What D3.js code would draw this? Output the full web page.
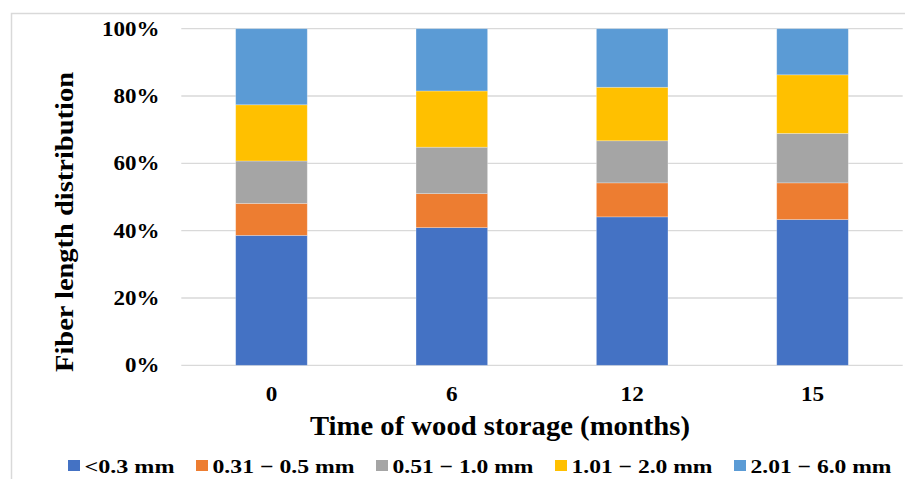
<!DOCTYPE html>
<html><head><meta charset="utf-8">
<script src="https://cdn.jsdelivr.net/npm/d3@7"></script>
<style>body{margin:0;background:#fff}svg{display:block}text{font-family:"Liberation Serif","Times New Roman",serif;font-weight:bold;fill:#000}</style>
</head><body><svg id="c" width="905" height="479"></svg>
<script>
const categories = ["0", "6", "12", "15"];
const seriesNames = ["<0.3 mm", "0.31 \u2212 0.5 mm", "0.51 \u2212 1.0 mm", "1.01 \u2212 2.0 mm", "2.01 \u2212 6.0 mm"];
const s1 = [38.6, 40.9, 44.1, 43.3];
const s2 = [9.5, 10.1, 10.1, 10.9];
const s3 = [12.6, 13.8, 12.5, 14.7];
const s4 = [16.7, 16.7, 15.9, 17.4];
const s5 = [22.6, 18.5, 17.4, 13.7];
const colors = ["#4472c4", "#ed7d31", "#a5a5a5", "#ffc000", "#5b9bd5"];
const yTicks = [0, 0.2, 0.4, 0.6, 0.8, 1.0];

const svg = d3.select("#c");
svg.append("rect").attr("x",11.5).attr("y",13.5).attr("width",900).attr("height",480)
  .attr("fill","none").attr("stroke","#d9d9d9").attr("stroke-width",1.5);

const x = d3.scaleBand().domain(categories).range([181.3, 902.7]).paddingInner(0.603).paddingOuter(0.3015);
const y = d3.scaleLinear().domain([0,1]).range([365.3, 28.7]);

const g = svg.append("g");
g.selectAll("line.grid").data(yTicks).join("line").attr("class","grid")
  .attr("x1",181.3).attr("x2",902.7).attr("y1",d=>y(d)).attr("y2",d=>y(d))
  .attr("stroke","#d9d9d9").attr("stroke-width",1.3);

const series = [s1,s2,s3,s4,s5];
const rows = categories.map((c,i)=>{const o={cat:c}; series.forEach((s,k)=>o["k"+k]=s[i]); return o;});
const stacked = d3.stack().keys(series.map((s,k)=>"k"+k)).offset(d3.stackOffsetExpand)(rows);
stacked.forEach((layer,k)=>{
  g.selectAll("rect.s"+k).data(layer).join("rect").attr("class","s"+k)
   .attr("x",d=>x(d.data.cat)).attr("width",x.bandwidth())
   .attr("y",d=>y(d[1])).attr("height",d=>y(d[0])-y(d[1]))
   .attr("fill",colors[k]).attr("stroke","#ffffff").attr("stroke-opacity",0.35).attr("stroke-width",0.75);
});

// y axis labels
const yAxis = d3.axisLeft(y).tickValues(yTicks).tickFormat(d3.format(".0%")).tickSize(0).tickPadding(0);
const ya = svg.append("g").attr("transform","translate(159.5,0)").call(yAxis);
ya.select(".domain").remove();
ya.selectAll("text").style("font-size","20px").attr("font-family",null).attr("x",0).attr("dy","0.32em")
  .attr("transform","scale(1.15,1)");

const xAxis = d3.axisBottom(x).tickSize(0).tickPadding(0);
const xa = svg.append("g").attr("transform","translate(0,400.7)").call(xAxis);
xa.select(".domain").remove();
xa.selectAll("text").style("font-size","20.5px").attr("font-family",null).attr("y",0).attr("dy",0)
  .attr("transform","scale(1.13,1)");

svg.append("text").attr("x",500).attr("y",435).attr("text-anchor","middle").style("font-size","27px")
  .attr("textLength",380).attr("lengthAdjust","spacingAndGlyphs")
  .text("Time of wood storage (months)");
svg.append("text").attr("transform","translate(73,222) rotate(-90)").attr("text-anchor","middle").style("font-size","26px")
  .attr("textLength",300).attr("lengthAdjust","spacingAndGlyphs")
  .text("Fiber length distribution");

const legWidths = [90, 142, 141, 141, 141];
const leg = svg.append("g");
let lx = 68;
seriesNames.forEach((n,k)=>{
  leg.append("rect").attr("x",lx).attr("y",460).attr("width",12).attr("height",11).attr("fill",colors[k]);
  leg.append("text").attr("x",lx+16.5).attr("y",473.3).style("font-size","19.7px")
    .attr("textLength",legWidths[k]).attr("lengthAdjust","spacingAndGlyphs").text(n);
  lx += 16.5 + legWidths[k] + 21.5;
});
</script></body></html>
